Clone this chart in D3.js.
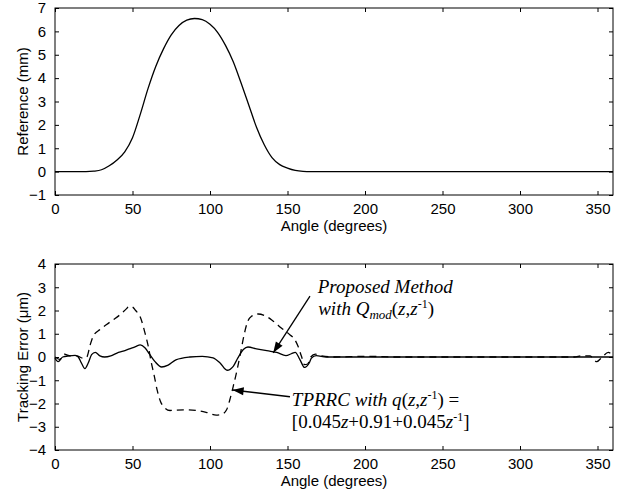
<!DOCTYPE html>
<html>
<head>
<meta charset="utf-8">
<script src="https://cdn.jsdelivr.net/npm/d3@7"></script>
<style>
  body { margin: 0; background: #fff; }
  svg text { fill: #000; }
</style>
</head>
<body>
<div id="chart"></div>
<script>
// reference cam profile (mm) vs angle (deg)
var refAngle = [0, 20, 25, 30, 35, 40, 45, 50, 55, 60, 65, 70, 75, 80, 85, 90, 95, 100, 105, 110, 115, 120, 125, 130, 135, 140, 145, 150, 155, 160, 165, 360];
var refValue = [0, 0, 0.02, 0.08, 0.25, 0.5, 0.85, 1.45, 2.45, 3.55, 4.5, 5.25, 5.85, 6.25, 6.48, 6.55, 6.5, 6.3, 5.95, 5.4, 4.7, 3.8, 2.85, 1.9, 1.15, 0.6, 0.3, 0.15, 0.05, 0.01, 0, 0];

// proposed method tracking error (um)
var propAngle = [0, 2, 5, 9, 13, 15, 17, 19.3, 21.5, 23.6, 26, 29, 32, 36, 40, 44, 48, 52, 55, 58, 61, 64.5, 68.8, 73, 78, 87, 95, 102, 106.5, 111, 115, 118, 121.5, 124.5, 130, 138.5, 143, 149, 152.5, 155, 158, 161, 164, 165.5, 168.5, 175, 360];
var propErr = [-0.05, -0.2, 0, 0.05, 0.07, 0, -0.25, -0.5, -0.25, 0.1, 0.2, 0.05, 0, 0.05, 0.17, 0.25, 0.35, 0.45, 0.52, 0.4, 0.12, -0.2, -0.43, -0.35, -0.12, 0, 0.03, -0.04, -0.26, -0.57, -0.4, -0.04, 0.32, 0.43, 0.35, 0.25, 0.2, 0.06, 0.14, 0.2, -0.11, -0.45, -0.26, -0.04, 0.06, 0, 0];

// TPRRC tracking error (um)
var tprrcAngle = [0, 3, 6, 10, 14, 18, 20.5, 22.6, 24.7, 29, 33.3, 37.6, 42, 46, 48, 50, 52, 55, 58, 60.2, 62, 64, 66, 68, 71, 74.2, 83, 91, 97.5, 104, 107.5, 110.7, 112.8, 115, 117.5, 119.7, 121.8, 124, 126.8, 131, 135.4, 140.8, 146, 151.5, 154.7, 156.8, 159, 161, 163, 165, 168, 172, 180, 200, 220, 335, 340, 345, 349.5, 353, 357, 360];
var tprrcErr = [0, -0.1, 0.12, 0.05, 0.05, -0.05, 0, 0.5, 0.9, 1.18, 1.4, 1.6, 1.82, 2.07, 2.18, 2.15, 2.0, 1.72, 1.05, 0.45, -0.2, -0.8, -1.45, -1.9, -2.2, -2.3, -2.27, -2.3, -2.38, -2.5, -2.47, -2.27, -1.84, -1.26, -0.55, 0.17, 0.89, 1.47, 1.75, 1.85, 1.78, 1.54, 1.25, 0.96, 0.75, 0.46, 0.03, -0.33, -0.3, 0, 0.12, 0.05, 0, 0.03, 0, 0, 0.05, 0.05, -0.2, 0, 0.2, 0.05];

var xTicks = [0, 50, 100, 150, 200, 250, 300, 350];
var yTopTicks = [-1, 0, 1, 2, 3, 4, 5, 6, 7];
var yBotTicks = [-4, -3, -2, -1, 0, 1, 2, 3, 4];

var width = 620, height = 493;
var font = "'Liberation Sans', Arial, sans-serif";
var serif = "'Liberation Serif', 'Times New Roman', serif";

var x = d3.scaleLinear().domain([0, 360]).range([55, 613]);
var yTop = d3.scaleLinear().domain([-1, 7]).range([195, 8]);
var yBot = d3.scaleLinear().domain([-4, 4]).range([450, 264]);

var svg = d3.select("#chart").append("svg")
    .attr("width", width)
    .attr("height", height)
    .attr("viewBox", [0, 0, width, height]);

svg.append("defs").append("marker")
    .attr("id", "head")
    .attr("markerUnits", "userSpaceOnUse")
    .attr("viewBox", "-12 -5 13 10")
    .attr("refX", 0).attr("refY", 0)
    .attr("markerWidth", 13).attr("markerHeight", 10)
    .attr("orient", "auto")
    .append("path")
    .attr("d", "M0,0L-11,-4L-11,4Z")
    .attr("fill", "#000");

function panel(y, yTicks, yLabel, titleY) {
    var g = svg.append("g");
    var top = y.range()[1], bottom = y.range()[0];

    var styleAxis = a => a
        .call(a => a.select(".domain").remove())
        .call(a => a.selectAll(".tick line").attr("stroke", "#000"))
        .call(a => a.selectAll("text").attr("font-family", font).attr("font-size", 15).attr("fill", "#000"));

    g.append("g").attr("transform", `translate(0,${bottom})`)
        .call(d3.axisBottom(x).tickValues(xTicks).tickSizeInner(-4).tickSizeOuter(0).tickPadding(8))
        .call(styleAxis);
    g.append("g").attr("transform", `translate(0,${top})`)
        .call(d3.axisTop(x).tickValues(xTicks).tickSizeInner(-4).tickSizeOuter(0).tickFormat(""))
        .call(styleAxis);
    g.append("g").attr("transform", `translate(${x(0)},0)`)
        .call(d3.axisLeft(y).tickValues(yTicks).tickSizeInner(-4).tickSizeOuter(0).tickPadding(9))
        .call(styleAxis);
    g.append("g").attr("transform", `translate(${x(360)},0)`)
        .call(d3.axisRight(y).tickValues(yTicks).tickSizeInner(-4).tickSizeOuter(0).tickFormat(""))
        .call(styleAxis);

    g.append("rect")
        .attr("x", x(0)).attr("y", top)
        .attr("width", x(360) - x(0)).attr("height", bottom - top)
        .attr("fill", "none").attr("stroke", "#000").attr("stroke-width", 1);

    g.append("text")
        .attr("x", (x(0) + x(360)) / 2).attr("y", titleY)
        .attr("text-anchor", "middle")
        .attr("font-family", font).attr("font-size", 15)
        .text("Angle (degrees)");

    g.append("text")
        .attr("transform", `translate(28,${(top + bottom) / 2}) rotate(-90)`)
        .attr("text-anchor", "middle")
        .attr("font-family", font).attr("font-size", 15)
        .text(yLabel);
    return g;
}

panel(yTop, yTopTicks, "Reference (mm)", 231);
panel(yBot, yBotTicks, "Tracking Error (\u03bcm)", 486);

function drawLine(angles, values, y, dash) {
    var line = d3.line()
        .x(d => x(d[0]))
        .y(d => y(d[1]))
        .curve(d3.curveMonotoneX);
    svg.append("path")
        .datum(angles.map((a, i) => [a, values[i]]))
        .attr("d", line)
        .attr("fill", "none")
        .attr("stroke", "#000")
        .attr("stroke-width", 1.3)
        .attr("stroke-dasharray", dash);
}

drawLine(refAngle, refValue, yTop, null);
drawLine(tprrcAngle, tprrcErr, yBot, "7,5");
drawLine(propAngle, propErr, yBot, null);

// annotations (data coordinates)
var arrows = [
    {from: [164.5, 2.62], to: [140.8, 0.18]},
    {from: [151.6, -1.71], to: [114.6, -1.42]}
];
svg.selectAll(".arrow")
    .data(arrows)
    .join("line")
    .attr("x1", d => x(d.from[0])).attr("y1", d => yBot(d.from[1]))
    .attr("x2", d => x(d.to[0])).attr("y2", d => yBot(d.to[1]))
    .attr("stroke", "#000").attr("stroke-width", 1.3)
    .attr("marker-end", "url(#head)");

function label(xv, yv, parts) {
    var t = svg.append("text")
        .attr("x", x(xv)).attr("y", yBot(yv))
        .attr("font-family", serif).attr("font-size", 19);
    parts.forEach(p => {
        t.append("tspan")
            .attr("font-style", p.it ? "italic" : "normal")
            .attr("font-size", p.size || null)
            .attr("dy", p.dy || null)
            .text(p.s);
    });
}

label(169.5, 2.75, [{s: "Proposed Method", it: true}]);
label(169.8, 1.8, [
    {s: "with Q", it: true},
    {s: "mod", it: true, size: 13, dy: 4},
    {s: "(", dy: -4},
    {s: "z", it: true}, {s: ","}, {s: "z", it: true},
    {s: "-1", size: 12, dy: -7},
    {s: ")", dy: 7}
]);
label(152.8, -2.1, [
    {s: "TPRRC with q", it: true},
    {s: "("}, {s: "z", it: true}, {s: ","}, {s: "z", it: true},
    {s: "-1", size: 12, dy: -7},
    {s: ") =", dy: 7}
]);
label(152.8, -3.05, [
    {s: "[0.045"}, {s: "z", it: true}, {s: "+0.91+0.045"}, {s: "z", it: true},
    {s: "-1", size: 12, dy: -7},
    {s: "]", dy: 7}
]);
</script>
</body>
</html>
